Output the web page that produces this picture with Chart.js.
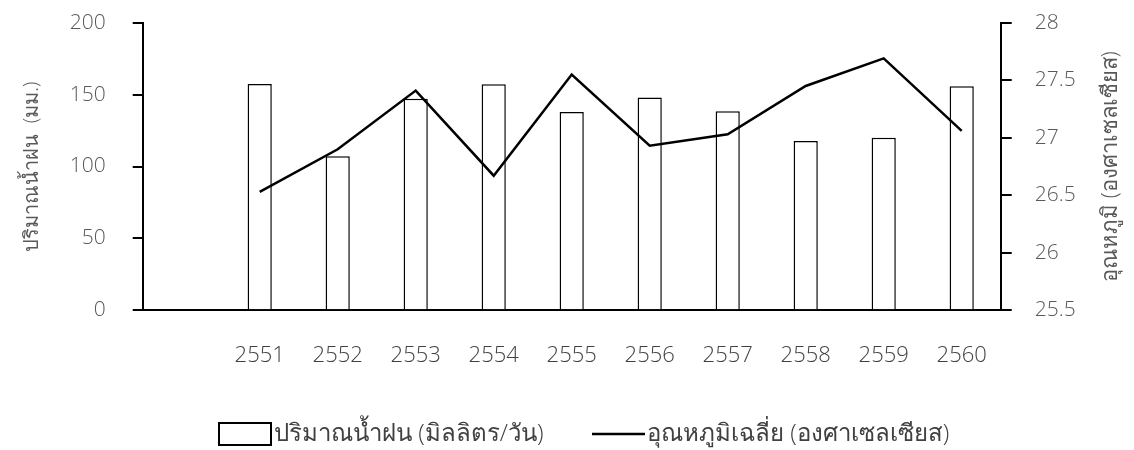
<!DOCTYPE html>
<html>
<head>
<meta charset="utf-8">
<script src="https://cdn.jsdelivr.net/npm/chart.js@4/dist/chart.umd.min.js"></script>
<style>
  html, body { margin: 0; padding: 0; background: #ffffff; }
  #wrap { width: 1134px; height: 450px; position: relative; }
</style>
</head>
<body>
<div id="wrap"><canvas id="chart"></canvas></div>
<script>
// Years (Buddhist era); the first slot is an empty lead-in category
const years = ['', '2551', '2552', '2553', '2554', '2555', '2556', '2557', '2558', '2559', '2560'];
// Rainfall per year (mm/day)
const rainfall = [null, 157.4, 107.1, 147.2, 157.2, 137.9, 147.9, 138.4, 117.7, 120.0, 155.8];
// Average temperature per year (°C)
const temperature = [null, 26.53, 26.90, 27.41, 26.67, 27.55, 26.93, 27.03, 27.45, 27.69, 27.06];
// Axis tick values
const rainTicks = [0, 50, 100, 150, 200];
const tempTicks = [25.5, 26, 26.5, 27, 27.5, 28];

const rainLabel = 'ปริมาณน้ำฝน (มิลลิตร/วัน)';
const tempLabel = 'อุณหภูมิเฉลี่ย (องศาเซลเซียส)';
const rainAxisTitle = 'ปริมาณน้ำฝน  (มม.)';
const tempAxisTitle = 'อุณหภูมิ (องศาเซลเซียส)';

const FONT = '"Open Sans", "Noto Sans", sans-serif';
const GREY = '#595959';
const DARK = '#404040';

// Rotated axis titles and a hand-drawn legend below the x labels
const decor = {
  id: 'decor',
  afterDraw(chart) {
    const { ctx, chartArea } = chart;
    const cy = (chartArea.top + chartArea.bottom) / 2;
    ctx.save();
    ctx.fillStyle = GREY;
    ctx.textAlign = 'center';
    ctx.textBaseline = 'middle';
    [[chartArea.left - 110, rainAxisTitle, 20], [chartArea.right + 110, tempAxisTitle, 22]].forEach(([x, t, size]) => {
      ctx.save();
      ctx.font = '300 ' + size + 'px ' + FONT;
      ctx.translate(x, cy);
      ctx.rotate(-Math.PI / 2);
      ctx.fillText(t, 0, 0);
      ctx.restore();
    });

    // legend
    const ly = 434;
    ctx.font = '300 24px ' + FONT;
    ctx.textAlign = 'left';
    ctx.strokeStyle = '#000';
    ctx.lineWidth = 2;
    ctx.fillStyle = '#fff';
    ctx.fillRect(219, ly - 11, 52, 22);
    ctx.strokeRect(219, ly - 11, 52, 22);
    ctx.fillStyle = DARK;
    ctx.fillText(rainLabel, 274, ly);
    ctx.lineWidth = 2.5;
    ctx.beginPath();
    ctx.moveTo(592, ly);
    ctx.lineTo(645, ly);
    ctx.stroke();
    ctx.fillText(tempLabel, 647, ly);
    ctx.restore();
  }
};

const plain = v => String(v);
// Vertical axes: fixed width, no extra top/bottom label padding
const fitY = w => s => { s.width = w; s.paddingTop = 0; s.paddingBottom = 0; };

new Chart(document.getElementById('chart'), {
  data: {
    labels: years,
    datasets: [
      {
        type: 'line',
        label: tempLabel,
        data: temperature,
        yAxisID: 'yTemp',
        borderColor: '#000',
        borderWidth: 2.5,
        pointRadius: 0,
        tension: 0,
        order: 1
      },
      {
        type: 'bar',
        label: rainLabel,
        data: rainfall,
        yAxisID: 'yRain',
        backgroundColor: '#fff',
        borderColor: '#000',
        borderWidth: 1.5,
        categoryPercentage: 1,
        barPercentage: 0.31,
        order: 2
      }
    ]
  },
  options: {
    responsive: true,
    maintainAspectRatio: false,
    animation: false,
    layout: { padding: { top: 22.7, bottom: 0, left: 0, right: 0 } },
    plugins: {
      legend: { display: false },
      tooltip: { enabled: false }
    },
    scales: {
      x: {
        offset: true,
        grid: { drawOnChartArea: false, drawTicks: false },
        border: { display: true, color: '#000', width: 2 },
        ticks: { color: DARK, font: { family: FONT, size: 22, weight: 300 }, padding: 32, maxRotation: 0, autoSkip: false },
        afterFit: s => { s.height = 139.7; }
      },
      yRain: {
        position: 'left',
        min: 0, max: 200,
        afterBuildTicks: s => { s.ticks = rainTicks.map(v => ({ value: v })); },
        grid: { drawOnChartArea: false, drawTicks: true, tickLength: 10, color: '#000', lineWidth: 2 },
        border: { display: true, color: '#000', width: 2 },
        ticks: { color: GREY, font: { family: FONT, size: 21, weight: 300 }, padding: 27, callback: plain },
        afterFit: fitY(142.7)
      },
      yTemp: {
        position: 'right',
        min: 25.5, max: 28,
        afterBuildTicks: s => { s.ticks = tempTicks.map(v => ({ value: v })); },
        grid: { drawOnChartArea: false, drawTicks: true, tickLength: 11, color: '#000', lineWidth: 2 },
        border: { display: true, color: '#000', width: 2 },
        ticks: { color: GREY, font: { family: FONT, size: 21, weight: 300 }, padding: 23, callback: plain },
        afterFit: fitY(133.3)
      }
    }
  },
  plugins: [decor]
});
</script>
</body>
</html>
